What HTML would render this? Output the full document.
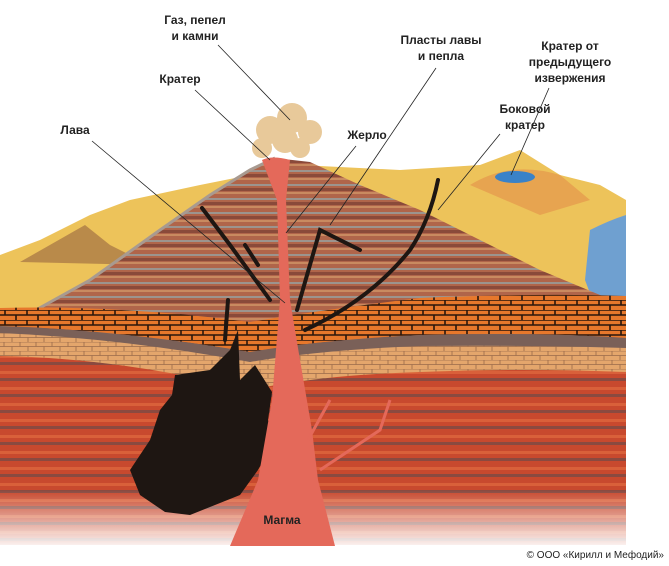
<!DOCTYPE html>
<html><head><meta charset="utf-8"><style>
html,body{margin:0;padding:0;background:#fff}
svg{display:block}
text{font-family:"Liberation Sans","DejaVu Sans",sans-serif;font-size:12px;font-weight:bold;fill:#222}
</style></head><body>
<svg width="669" height="566" viewBox="0 0 669 566" xmlns="http://www.w3.org/2000/svg">
<defs>
<linearGradient id="fadeB" x1="0" y1="0" x2="0" y2="1">
<stop offset="0" stop-color="#fff" stop-opacity="0"/><stop offset="1" stop-color="#fff" stop-opacity="1"/></linearGradient>
<pattern id="brick1" width="22" height="10" patternUnits="userSpaceOnUse">
<rect width="22" height="10" fill="#e7782c"/><path d="M0 0H22M0 5H22M5 0V5M16 5V10" stroke="#2a160c" stroke-width="1.6"/></pattern>
<pattern id="brick2" width="16" height="9" patternUnits="userSpaceOnUse">
<rect width="16" height="9" fill="#e4a66c"/><path d="M0 0H16M0 4.5H16M4 0V4.5M12 4.5V9" stroke="#9a6a4a" stroke-width="0.8"/></pattern>
<pattern id="redl" width="40" height="16" patternUnits="userSpaceOnUse">
<rect width="40" height="16" fill="#c8492e"/><rect y="10" width="40" height="3" fill="#8a4a40"/><rect y="3" width="40" height="3" fill="#d9603a"/></pattern>
<pattern id="cone" width="60" height="14" patternUnits="userSpaceOnUse">
<rect width="60" height="14" fill="#b0654a"/><rect y="2" width="60" height="2" fill="#9c948e"/><rect y="6" width="60" height="3" fill="#8a4a3a"/><rect y="10" width="60" height="2" fill="#c98a60"/></pattern>
</defs>
<!-- yellow hills -->
<path d="M0 255 L40 240 90 215 130 200 200 185 250 175 300 165 400 170 480 165 520 150 560 175 600 185 626 200 L626 430 0 430Z" fill="#edc35a"/>
<path d="M20 262 L85 225 110 245 150 265Z" fill="#b98a4a"/>
<path d="M470 185 Q510 160 560 175 L590 200 L540 215 Z" fill="#e7a450"/>
<ellipse cx="515" cy="177" rx="20" ry="6" fill="#3a82c8"/>
<path d="M590 230 Q610 220 626 215 L626 330 600 320 585 280Z" fill="#6fa0d0"/>
<!-- cone -->
<path d="M0 330 L90 280 160 230 210 195 250 170 275 158 310 162 360 185 420 210 480 240 540 270 600 295 626 305 L626 352 L0 352 Z" fill="url(#cone)"/>
<path d="M0 330 L90 280 160 230 210 195 250 170 275 158" fill="none" stroke="#a89a90" stroke-width="3"/>
<!-- layers -->
<path d="M0 308 Q120 305 250 322 Q320 310 420 298 Q540 293 626 296 L626 338 Q540 332 420 335 Q320 340 250 352 Q120 330 0 326Z" fill="url(#brick1)"/>
<path d="M0 326 Q120 330 250 352 Q320 340 420 335 Q540 332 626 338 L626 350 Q520 348 420 350 Q320 355 250 365 Q120 340 0 335Z" fill="#7a6058"/>
<path d="M0 333 Q120 338 250 362 Q320 350 420 346 Q540 345 626 348 L626 372 Q520 368 420 372 Q320 375 250 390 Q120 358 0 356Z" fill="url(#brick2)"/>
<path d="M0 356 Q120 358 250 390 Q320 375 420 372 Q520 368 626 372 L626 545 L0 545Z" fill="url(#redl)"/>
<rect x="0" y="490" width="626" height="60" fill="url(#fadeB)"/>
<!-- magma chamber -->
<path d="M175 375 L210 370 230 350 238 330 240 380 255 365 272 392 268 420 275 440 258 470 240 495 215 505 190 515 165 512 140 495 130 470 150 440 160 410 172 395Z" fill="#1e1612"/>
<!-- dykes -->
<g stroke="#1e1612" stroke-width="4" fill="none" stroke-linecap="round">
<path d="M202 208 L230 245 L270 300"/>
<path d="M245 245 L258 265"/>
<path d="M297 310 L320 230 L360 250"/>
<path d="M305 330 Q370 300 410 250 Q430 220 438 180"/>
<path d="M225 340 L228 300"/>
</g>
<!-- conduit -->
<path d="M262 160 Q272 155 290 160 L286 200 L290 300 L300 360 L312 430 L318 480 L335 546 L230 546 L258 480 L272 400 L280 300 L277 200 Z" fill="#e4695a"/>
<path d="M308 440 L330 400 M320 470 L380 430 L390 400" stroke="#e4695a" stroke-width="3" fill="none"/>
<!-- smoke -->
<g fill="#e8c99a"><circle cx="270" cy="130" r="14"/><circle cx="292" cy="118" r="15"/><circle cx="310" cy="132" r="12"/><circle cx="262" cy="148" r="10"/><circle cx="300" cy="148" r="10"/><circle cx="285" cy="140" r="13"/></g>
<!-- leader lines -->
<g stroke="#222" stroke-width="0.8">
<line x1="218" y1="45" x2="290" y2="120"/>
<line x1="195" y1="90" x2="270" y2="160"/>
<line x1="92" y1="141" x2="285" y2="303"/>
<line x1="356" y1="146" x2="286" y2="233"/>
<line x1="436" y1="68" x2="330" y2="225"/>
<line x1="500" y1="134" x2="438" y2="210"/>
<line x1="549" y1="88" x2="511" y2="175"/>
</g>
<text x="195" y="24" text-anchor="middle">Газ, пепел</text>
<text x="195" y="40" text-anchor="middle">и камни</text>
<text x="180" y="83" text-anchor="middle">Кратер</text>
<text x="75" y="134" text-anchor="middle">Лава</text>
<text x="367" y="139" text-anchor="middle">Жерло</text>
<text x="441" y="44" text-anchor="middle">Пласты лавы</text>
<text x="441" y="60" text-anchor="middle">и пепла</text>
<text x="525" y="113" text-anchor="middle">Боковой</text>
<text x="525" y="129" text-anchor="middle">кратер</text>
<text x="570" y="50" text-anchor="middle">Кратер от</text>
<text x="570" y="66" text-anchor="middle">предыдущего</text>
<text x="570" y="82" text-anchor="middle">извержения</text>
<text x="282" y="524" text-anchor="middle">Магма</text>
<text x="664" y="558" text-anchor="end" style="font-size:10px;font-weight:normal">© ООО «Кирилл и Мефодий»</text>
</svg>
</body></html>
